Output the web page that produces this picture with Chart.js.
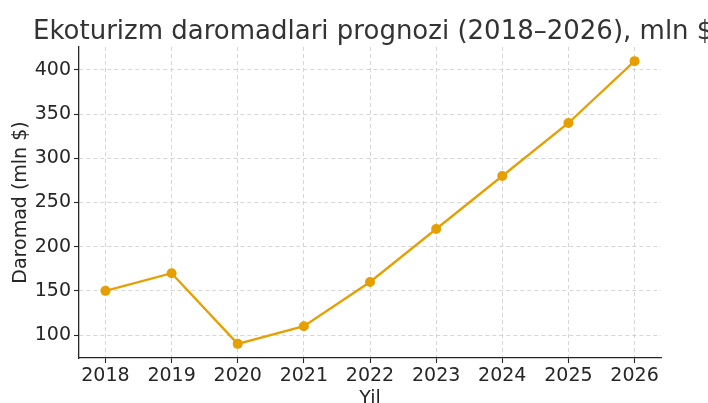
<!DOCTYPE html>
<html>
<head>
<meta charset="utf-8">
<script src="https://cdn.jsdelivr.net/npm/chart.js@4"></script>
<style>
  html, body { margin: 0; padding: 0; background: #fff; }
  #wrap { width: 708px; height: 403px; }
</style>
</head>
<body>
<div id="wrap"><canvas id="c" width="708" height="403"></canvas></div>
<script>
// Data
const years = [2018, 2019, 2020, 2021, 2022, 2023, 2024, 2025, 2026];
const revenue = [150, 170, 90, 110, 160, 220, 280, 340, 410];
const yTicks = [100, 150, 200, 250, 300, 350, 400];

const titleText = 'Ekoturizm daromadlari prognozi (2018\u20132026), mln $';
const FONT = "'DejaVu Sans', sans-serif";

// Title drawn on the canvas so it can run to the right edge like the original
const titlePlugin = {
    id: 'leftTitle',
    afterDraw(chart) {
        const ctx = chart.ctx;
        ctx.save();
        ctx.font = '26px ' + FONT;
        ctx.fillStyle = '#333333';
        ctx.textAlign = 'left';
        ctx.textBaseline = 'alphabetic';
        ctx.fillText(titleText, 33, 39);
        ctx.restore();
    }
};

const gridOpts = {
    color: '#cccccc',
    lineWidth: 0.8,
    tickLength: 5,
    tickColor: '#262626',
    tickBorderDash: [],
    tickWidth: 1.1
};

new Chart(document.getElementById('c'), {
    type: 'line',
    data: {
        datasets: [{
            data: years.map((y, i) => ({ x: y, y: revenue[i] })),
            borderColor: '#E69F00',
            backgroundColor: '#E69F00',
            borderWidth: 2.3,
            pointRadius: 5,
            pointBackgroundColor: '#E69F00',
            pointBorderWidth: 0,
            tension: 0,
            fill: false
        }]
    },
    options: {
        responsive: false,
        animation: false,
        layout: { padding: { left: 0, right: 47, top: 47, bottom: 0 } },
        plugins: {
            legend: { display: false },
            tooltip: { enabled: false }
        },
        scales: {
            x: {
                type: 'linear',
                min: 2017.6,
                max: 2026.4,
                afterBuildTicks: (s) => { s.ticks = years.map(v => ({ value: v })); },
                afterFit: (s) => { s.height = 45; },
                grid: gridOpts,
                border: { display: true, color: '#262626', width: 1.3, dash: [4, 3] },
                ticks: {
                    color: '#262626',
                    font: { family: FONT, size: 19 },
                    padding: 2,
                    maxRotation: 0,
                    callback: (v) => String(v)
                },
                title: {
                    display: true,
                    text: 'Yil',
                    color: '#262626',
                    font: { family: FONT, size: 19, lineHeight: 0.45 },
                    padding: { top: 0, bottom: 0 }
                }
            },
            y: {
                min: 74,
                max: 426,
                afterBuildTicks: (s) => { s.ticks = yTicks.map(v => ({ value: v })); },
                afterFit: (s) => { s.width = 79; },
                grid: gridOpts,
                border: { display: true, color: '#262626', width: 1.3, dash: [4, 3] },
                ticks: {
                    color: '#262626',
                    font: { family: FONT, size: 19 },
                    padding: 3
                },
                title: {
                    display: true,
                    text: 'Daromad (mln $)',
                    color: '#262626',
                    font: { family: FONT, size: 19 },
                    padding: { top: 10, bottom: 2 }
                }
            }
        }
    },
    plugins: [titlePlugin]
});
</script>
</body>
</html>
